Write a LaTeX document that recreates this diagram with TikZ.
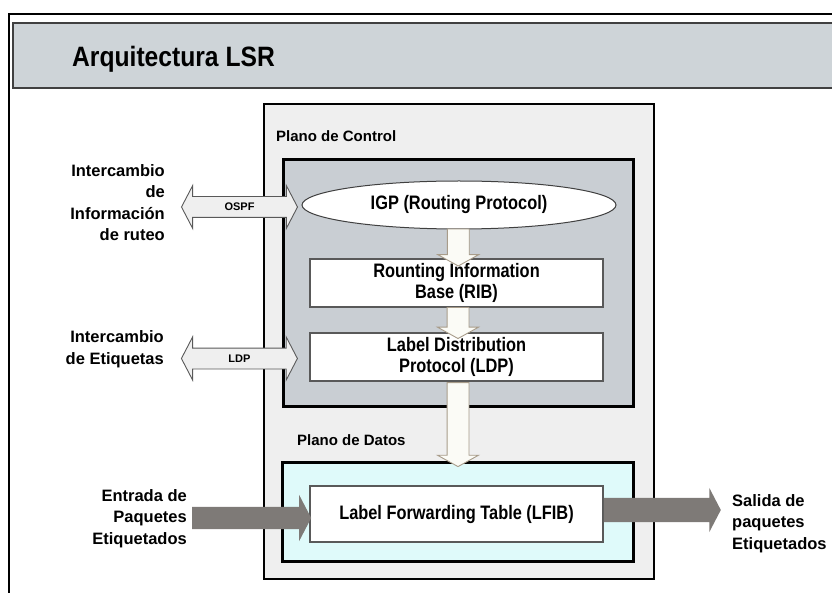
\documentclass[tikz,border=0pt]{standalone}
\usepackage{fontspec}
\setmainfont{Liberation Sans}
\newfontfamily\angosta[FakeStretch=0.84]{Liberation Sans}
\newfontfamily\titular[FakeStretch=0.88]{Liberation Sans}
\usetikzlibrary{shapes.geometric,shapes.arrows,calc}

\definecolor{bandgray}{HTML}{CED4D8}
\definecolor{planogray}{HTML}{EFEFEF}
\definecolor{ctrlgray}{HTML}{C9CED3}
\definecolor{datoscyan}{HTML}{DFFAFA}
\definecolor{flowgray}{HTML}{7E7A77}
\definecolor{hollowedge}{HTML}{A89C8A}
\definecolor{hollowfill}{HTML}{FBFBF6}

\tikzset{
  band/.style={draw=black!75, line width=1.5pt, fill=bandgray},
  plano/.style={draw=black, line width=2pt, fill=planogray},
  marco/.style={draw=black, line width=3pt},
  caja/.style={draw=black!65, line width=1.2pt, fill=white, minimum width=293, align=center,
    font=\angosta\bfseries\fontsize{19.5}{20.5}\selectfont},
  etiq/.style={inner sep=0, font=\bfseries\fontsize{15}{18}\selectfont},
  lado/.style={inner sep=0, font=\bfseries\fontsize{16.5}{21.5}\selectfont},
  hueco/.style={single arrow, draw=hollowedge, fill=hollowfill, line width=0.9pt,
    inner xsep=0, inner ysep=10.5, minimum width=0, single arrow head extend=9.5,
    single arrow tip angle=122, rotate=-90},
  doble/.style={double arrow, draw=black!65, fill=planogray, line width=0.9pt,
    minimum height=116, inner xsep=0, inner ysep=6, text height=8, text depth=0,
    double arrow head extend=11, double arrow tip angle=125,
    font=\bfseries\fontsize{11}{12}\selectfont},
  flujo/.style={single arrow, fill=flowgray, inner xsep=0, minimum width=0,
    single arrow tip angle=125}
}

\begin{document}
\begin{tikzpicture}[x=1pt,y=-1pt]
\useasboundingbox (0,0) rectangle (832,593);
% marco y titulo
\draw[line width=2.5pt] (9,593) -- (9,14) -- (832,14);
\draw[band] (13,23) rectangle (840,88);
\node[anchor=base west, inner sep=0, font=\titular\bfseries\fontsize{28}{32}\selectfont] (titulo) at (72,67) {Arquitectura LSR};

% planos
\node[plano, minimum width=390, minimum height=475] (lsr) at (458.5,341.5) {};
\node[etiq, anchor=base west] (pctrl) at (276,142) {Plano de Control};
\node[marco, fill=ctrlgray, minimum width=350, minimum height=246] (control) at (458,283) {};
\node[etiq, anchor=base west] (pdatos) at (297,445) {Plano de Datos};
\node[marco, fill=datoscyan, minimum width=351, minimum height=99] (datos) at (457.5,511.5) {};

% bloques
\node[ellipse, draw=black!75, line width=1pt, fill=white, minimum width=314, minimum height=48,
  font=\angosta\bfseries\fontsize{19.5}{20.5}\selectfont] (igp) at (459,205) {IGP (Routing Protocol)};
\node[caja, minimum height=48] (rib) at (456.5,283) {Rounting Information\\Base (RIB)};
\node[caja, minimum height=48] (ldp) at (456.5,357) {Label Distribution\\Protocol (LDP)};
\node[caja, minimum height=56] (lfib) at (456.5,514) {Label Forwarding Table (LFIB)};

% flechas internas
\node[hueco, minimum height=37] (a1) at ($(igp.south)!0.5!(rib.north)+(0.5,0.5)$) {};
\node[hueco, minimum height=31] (a2) at ($(rib.south)!0.5!(ldp.north)+(1.5,0)$) {};
\node[hueco, minimum height=84] (a3) at ($(ldp.south)!0.5!(datos.north)+(1,0.5)$) {};

% intercambios
\node[lado, anchor=east, align=right] (info) at (165,202.5) {Intercambio\\de\\Información\\de ruteo};
\node[doble] (ospf) at ($(igp.west)+(-62,2)$) {OSPF};
\node[lado, anchor=east, align=right] (etq) at (164,349) {Intercambio\\de Etiquetas};
\node[doble] (ldpx) at ($(ldp.west)+(-70,1.5)$) {LDP};

% paquetes
\node[lado, anchor=east, align=right] (entrada) at (187,518.5) {Entrada de\\Paquetes\\Etiquetados};
\node[flujo, inner ysep=11, single arrow head extend=12, minimum height=119, anchor=tip]
  (fin) at ($(lfib.west)+(2,4)$) {};
\node[flujo, inner ysep=12, single arrow head extend=10, minimum height=117, anchor=tail]
  (fout) at ($(lfib.east)+(0,-4)$) {};
\node[lado, anchor=west, align=left] (salida) at (732,523.5) {Salida de\\paquetes\\Etiquetados};
\end{tikzpicture}
\end{document}
